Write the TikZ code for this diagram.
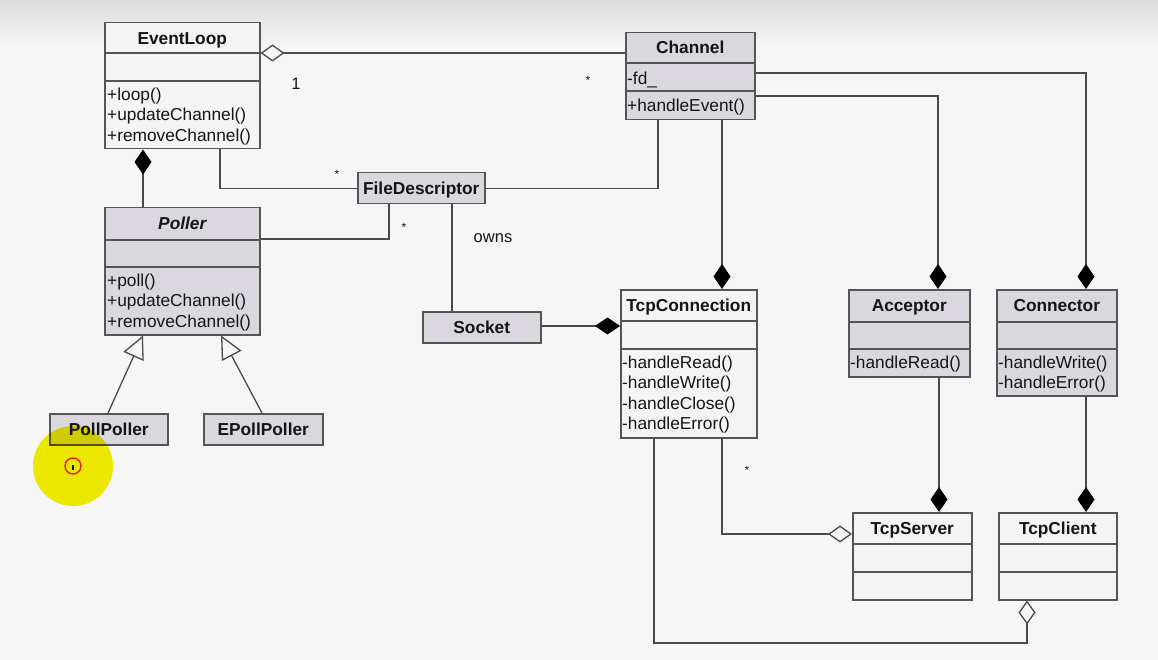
\documentclass[tikz,border=0pt]{standalone}
\usepackage{fontspec}
\setmainfont{Liberation Sans}
\usetikzlibrary{arrows.meta}
\definecolor{bgc}{HTML}{F6F6F6}
\definecolor{bgtop}{HTML}{DCDCDC}
\definecolor{grayfill}{HTML}{DAD8DE}
\definecolor{whitefill}{HTML}{F4F4F4}
\definecolor{boxedge}{HTML}{555555}
\definecolor{linec}{HTML}{4A4A4A}
\definecolor{txt}{HTML}{151515}
\definecolor{hilite}{HTML}{F4F000}
\definecolor{ringred}{HTML}{E02020}
\begin{document}
\begin{tikzpicture}[x=1pt,y=-1pt,
  clsbox/.style={draw=boxedge, line width=1.5pt, rectangle, inner sep=0pt, anchor=north west},
  gbox/.style={clsbox, fill=grayfill},
  wbox/.style={clsbox, fill=whitefill},
  sep/.style={draw=boxedge, line width=1.3pt},
  ttl/.style={inner sep=0pt, text height=12.4pt, text depth=0pt, text=txt,
    font=\fontsize{17.3}{20.5}\selectfont\bfseries},
  meth/.style={inner sep=0pt, anchor=west, text height=12.4pt, text depth=0pt, text=txt,
    font=\fontsize{17.3}{20.5}\selectfont},
  lbl/.style={inner sep=0pt, text height=12.4pt, text depth=0pt, text=txt,
    font=\fontsize{16.5}{20}\selectfont},
  starlbl/.style={inner sep=0pt, text=txt, font=\fontsize{12}{13}\selectfont},
  conn/.style={draw=linec, line width=1.3pt},
  comp/.style={conn, -{Diamond[length=25pt, width=17pt, fill=black, color=black]}},
  aggr/.style={conn, -{Diamond[length=24pt, width=17pt, fill=bgc]}},
  inher/.style={conn, -{Triangle[open, length=23pt, width=22pt]}}
]
\useasboundingbox (0,0) rectangle (1158,660);
% background
\fill[bgc] (0,0) rectangle (1158,660);
\shade[top color=bgtop, bottom color=bgc] (0,0) rectangle (1158,48);

% ---------- classes ----------
% EventLoop
\node[wbox, minimum width=155pt, minimum height=126pt] (el) at (104,22) {};
\draw[sep] (el.west |- 0,53) -- (el.east |- 0,53);
\draw[sep] (el.west |- 0,81) -- (el.east |- 0,81);
\node[ttl] (elt) at (el.north |- 0,38) {EventLoop};
\node[meth] (elm1) at (107,94) {+loop()};
\node[meth] (elm2) at (107,114.5) {+updateChannel()};
\node[meth] (elm3) at (107,135) {+removeChannel()};

% Channel
\node[gbox, minimum width=129pt, minimum height=87pt] (ch) at (625,32) {};
\draw[sep] (ch.west |- 0,63) -- (ch.east |- 0,63);
\draw[sep] (ch.west |- 0,91) -- (ch.east |- 0,91);
\node[ttl] (cht) at (ch.north |- 0,47.5) {Channel};
\node[meth] (cha1) at (627,78) {-fd\_};
\node[meth] (chm1) at (627,105) {+handleEvent()};

% FileDescriptor
\node[gbox, minimum width=127pt, minimum height=31pt] (fd) at (357,172) {};
\node[ttl] (fdt) at (fd.center) {FileDescriptor};

% Poller
\node[gbox, minimum width=155pt, minimum height=127pt] (po) at (104,207) {};
\draw[sep] (po.west |- 0,240) -- (po.east |- 0,240);
\draw[sep] (po.west |- 0,267) -- (po.east |- 0,267);
\node[ttl, font=\fontsize{17.3}{20.5}\selectfont\bfseries\itshape] (pot) at (po.north |- 0,223) {Poller};
\node[meth] (pom1) at (107,280) {+poll()};
\node[meth] (pom2) at (107,300.5) {+updateChannel()};
\node[meth] (pom3) at (107,321) {+removeChannel()};

% Socket
\node[gbox, minimum width=118pt, minimum height=31pt] (so) at (422,311) {};
\node[ttl] (sot) at (so.center) {Socket};

% PollPoller / EPollPoller
\node[gbox, minimum width=118pt, minimum height=31pt] (pp) at (49,413) {};
\node[ttl] (ppt) at (pp.center) {PollPoller};
\node[gbox, minimum width=119pt, minimum height=31pt] (ep) at (203,413) {};
\node[ttl] (ept) at (ep.center) {EPollPoller};

% TcpConnection
\node[wbox, minimum width=136pt, minimum height=148pt] (tc) at (620,289) {};
\draw[sep] (tc.west |- 0,321) -- (tc.east |- 0,321);
\draw[sep] (tc.west |- 0,349) -- (tc.east |- 0,349);
\node[ttl] (tct) at (tc.north |- 0,305) {TcpConnection};
\node[meth] (tcm1) at (622,362) {-handleRead()};
\node[meth] (tcm2) at (622,382.5) {-handleWrite()};
\node[meth] (tcm3) at (622,403) {-handleClose()};
\node[meth] (tcm4) at (622,423.5) {-handleError()};

% Acceptor
\node[gbox, minimum width=121pt, minimum height=87pt] (ac) at (848,289) {};
\draw[sep] (ac.west |- 0,322) -- (ac.east |- 0,322);
\draw[sep] (ac.west |- 0,349) -- (ac.east |- 0,349);
\node[ttl] (act) at (ac.north |- 0,305) {Acceptor};
\node[meth] (acm1) at (850,362) {-handleRead()};

% Connector
\node[gbox, minimum width=120pt, minimum height=106pt] (cn) at (996,289) {};
\draw[sep] (cn.west |- 0,322) -- (cn.east |- 0,322);
\draw[sep] (cn.west |- 0,349) -- (cn.east |- 0,349);
\node[ttl] (cnt) at (cn.north |- 0,305) {Connector};
\node[meth] (cnm1) at (998,362) {-handleWrite()};
\node[meth] (cnm2) at (998,382.5) {-handleError()};

% TcpServer
\node[wbox, minimum width=119pt, minimum height=87pt] (ts) at (852,512) {};
\draw[sep] (ts.west |- 0,544) -- (ts.east |- 0,544);
\draw[sep] (ts.west |- 0,572) -- (ts.east |- 0,572);
\node[ttl] (tst) at (ts.north |- 0,528) {TcpServer};

% TcpClient
\node[wbox, minimum width=118pt, minimum height=87pt] (tcl) at (998,512) {};
\draw[sep] (tcl.west |- 0,544) -- (tcl.east |- 0,544);
\draw[sep] (tcl.west |- 0,572) -- (tcl.east |- 0,572);
\node[ttl] (tclt) at (tcl.north |- 0,528) {TcpClient};

% ---------- connectors ----------
\draw[aggr] (ch.west |- 0,53) -- (el.east |- 0,53);
\draw[comp] (po.north -| 143,0) -- (el.south -| 143,0);
\draw[conn] (el.south -| 220,0) |- (fd.west);
\draw[conn] (po.east |- 0,239) -| (fd.south -| 389,0);
\draw[conn] (ch.south -| 658,0) |- (fd.east);
\draw[conn] (fd.south -| 452,0) -- (so.north -| 452,0);
\draw[comp] (so.east |- 0,326) -- (tc.west |- 0,326);
\draw[comp] (ch.south -| 722,0) -- (tc.north -| 722,0);
\draw[comp] (ch.east |- 0,96) -| (ac.north -| 938,0);
\draw[comp] (ch.east |- 0,73) -| (cn.north -| 1086,0);
\draw[comp] (ac.south -| 939,0) -- (ts.north -| 939,0);
\draw[comp] (cn.south -| 1086,0) -- (tcl.north -| 1086,0);
\draw[aggr] (tc.south -| 722,0) |- (ts.west |- 0,534);
\coordinate (bend) at (654,643);
\draw[aggr] (tc.south -| 654,0) -- (bend) -| (tcl.south -| 1027,0);
\draw[inher] (pp.north -| 108,0) -- (po.south -| 143,0);
\draw[inher] (ep.north -| 262,0) -- (po.south -| 221,0);

% ---------- labels ----------
\node[lbl] (one) at (296,83) {1};
\node[starlbl] (s1) at (588,80) {*};
\node[starlbl] (s2) at (337,174) {*};
\node[starlbl] (s3) at (404,227) {*};
\node[starlbl] (s4) at (747,470) {*};
\node[lbl] (owns) at (493,236) {owns};

% ---------- cursor highlight ----------
\fill[hilite, blend mode=multiply] (73,466) circle[radius=40];
\draw[ringred, line width=1.4pt] (73,466) circle[radius=8];
\draw[txt, line width=1.1pt] (73,465) -- (73,470);
\end{tikzpicture}
\end{document}
